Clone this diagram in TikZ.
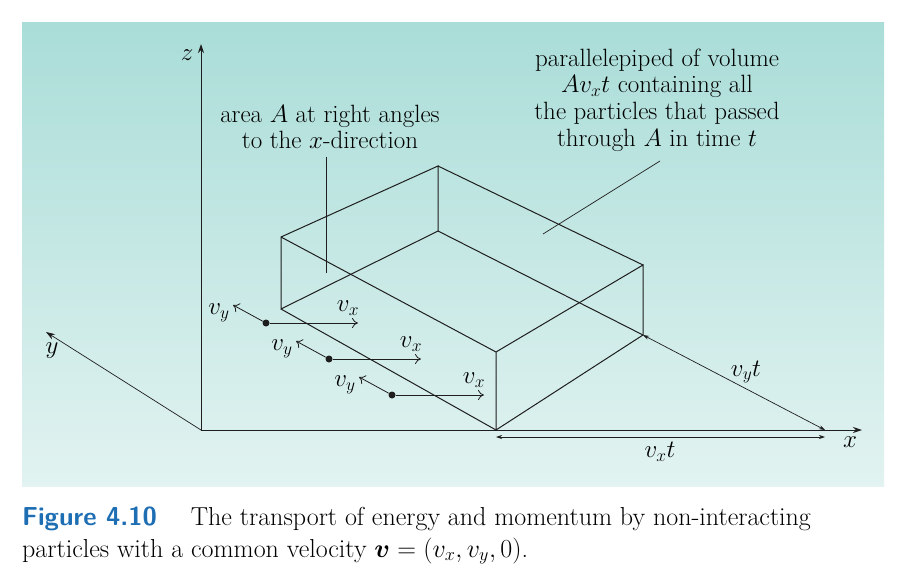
\documentclass[tikz,border=0pt]{standalone}
\usepackage{fix-cm}
\usepackage{amsmath,bm}
\usetikzlibrary{arrows.meta}
\definecolor{bgtop}{RGB}{170,221,216}
\definecolor{bgbot}{RGB}{226,243,241}
\definecolor{capblue}{RGB}{30,110,180}
\definecolor{ln}{RGB}{30,30,30}
\begin{document}
\begin{tikzpicture}[x=1pt,y=-1pt,
  edge/.style={draw=ln,line width=1pt},
  thin/.style={draw=ln,line width=0.7pt},
  lbl/.style={font=\fontsize{25}{26.7}\selectfont,inner sep=1pt},
  vec/.style={draw=ln,line width=0.8pt,-{To[length=6pt,width=10pt]}},
  dot/.style={circle,fill=ln,inner sep=0pt,minimum size=7pt}]
\useasboundingbox (0,0) rectangle (906,584);
\shade[top color=bgtop,bottom color=bgbot] (22,22) rectangle (884,486);
% axes
\coordinate (O) at (201,430);
\coordinate (X) at (862,430);
\coordinate (Z) at (201,44);
\coordinate (Y) at (46,332);
\draw[edge,-{Stealth[length=9pt,width=6pt]}] (O) -- (X);
\draw[edge,-{Stealth[length=9pt,width=6pt]}] (O) -- (Z);
\draw[thin,-{Stealth[length=9pt,width=6pt]}] (O) -- (Y);
\node[lbl] (xl) at (850,442) {$x$};
\node[lbl] (zl) at (187,55) {$z$};
\node[lbl] (yl) at (52,351) {$y$};
% box
\coordinate (a) at (281,309);
\coordinate (b) at (281,237);
\coordinate (c) at (438,166);
\coordinate (d) at (438,231);
\coordinate (e) at (496,430);
\coordinate (f) at (496,352);
\coordinate (g) at (643,265);
\coordinate (h) at (643,335);
\draw[edge] (a)--(b)--(c)--(d)--cycle;
\draw[edge] (e)--(f)--(g)--(h)--cycle;
\draw[edge] (a)--(e) (b)--(f) (c)--(g) (d)--(h);
% dimensions
\coordinate (vyE) at (825,430);
\coordinate (vxS) at (496,437);
\coordinate (vxE) at (825,437);
\draw[thin,{Stealth[length=6pt,width=4pt]}-{Stealth[length=6pt,width=4pt]}] (h) -- (vyE);
\draw[thin,{Stealth[length=6pt,width=4pt]}-{Stealth[length=6pt,width=4pt]}] (vxS) -- (vxE);
\node[lbl] (vyt) at (746,372) {$v_yt$};
\node[lbl] (vxt) at (660,452) {$v_xt$};
% particles
\foreach \i/\px/\py in {1/266/323,2/329/359,3/392/395}{
  \node[dot] (p\i) at (\px,\py) {};
  \coordinate (px\i) at (\px+92,\py);
  \coordinate (py\i) at (\px-33,\py-18);
  \draw[vec] (p\i) -- (px\i);
  \draw[vec] (p\i) -- (py\i);
  \node[lbl] (lx\i) at (\px+82,\py-15) {$v_x$};
  \node[lbl] (ly\i) at (\px-47,\py-10) {$v_y$};
}
% annotations
\node[lbl,align=center] (areaA) at (330,127) {area $A$ at right angles\\to the $x$-direction};
\node[lbl,align=center] (para) at (657,100) {parallelepiped of volume\\$Av_xt$ containing all\\the particles that passed\\through $A$ in time $t$};
\coordinate (aA) at (326,157);
\coordinate (aB) at (326,273);
\coordinate (pA) at (660,161);
\coordinate (pB) at (543,234);
\draw[thin] (aA) -- (aB);
\draw[thin] (pA) -- (pB);
% caption
\node[anchor=west,inner sep=0pt,font=\fontsize{26}{33}\selectfont] (cap1) at (22,519)
  {\textcolor{capblue}{\sffamily\bfseries Figure 4.10}\quad\ The transport of energy and momentum by non-interacting};
\node[anchor=west,inner sep=0pt,font=\fontsize{26}{33}\selectfont] (cap2) at (22,551)
  {particles with a common velocity $\bm{v}=(v_x,v_y,0)$.};
\end{tikzpicture}
\end{document}
